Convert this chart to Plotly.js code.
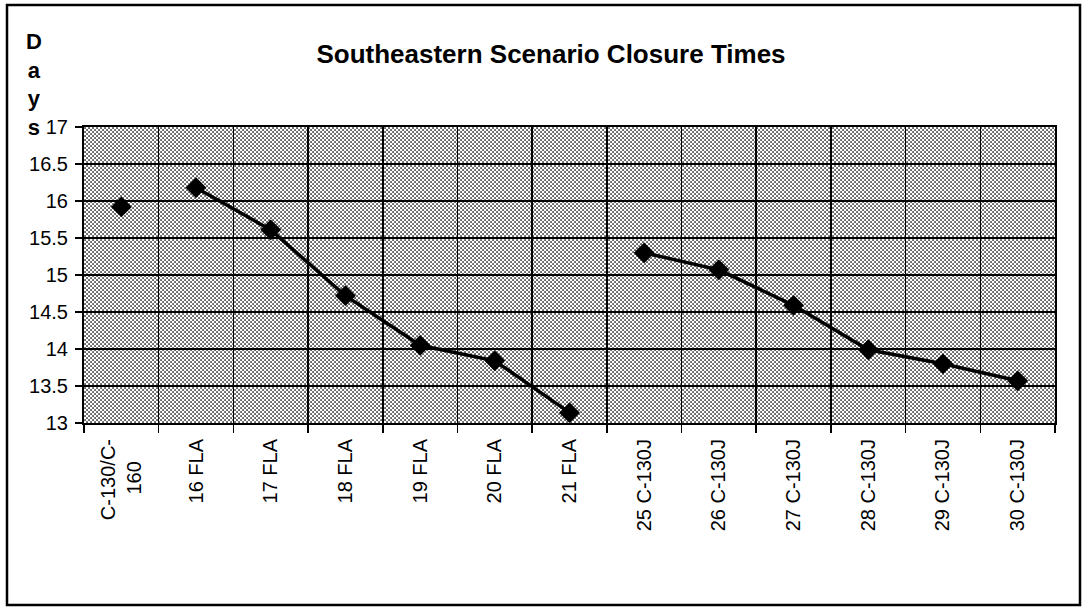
<!DOCTYPE html>
<html>
<head>
<meta charset="utf-8">
<script src="https://cdn.plot.ly/plotly-3.0.1.min.js"></script>
<style>
html,body{margin:0;padding:0;background:#fff;}
#chart{width:1088px;height:610px;}
</style>
</head>
<body>
<div id="chart"></div>
<script>
// Categories (x tick labels)
const categories = ["C-130/C-<br>160\u00a0\u00a0\u00a0\u00a0","16 FLA","17 FLA","18 FLA","19 FLA","20 FLA","21 FLA",
  "25 C-130J","26 C-130J","27 C-130J","28 C-130J","29 C-130J","30 C-130J"];
// Closure times (days) for each group; null where the group has no value
const baseline = [15.92, null, null, null, null, null, null, null, null, null, null, null, null];
const flaSeries = [null, 16.18, 15.61, 14.72, 14.05, 13.84, 13.14, null, null, null, null, null, null];
const c130jSeries = [null, null, null, null, null, null, null, 15.30, 15.07, 14.59, 13.99, 13.80, 13.57];
const yTicks = [13, 13.5, 14, 14.5, 15, 15.5, 16, 16.5, 17];

const font = "Liberation Sans, Arial, Helvetica, sans-serif";

function mk(y){
  return {
    x: categories, y: y, type: "scatter", mode: "lines+markers",
    connectgaps: false,
    line: {color: "#000", width: 3.5},
    marker: {symbol: "diamond", size: 16, color: "#000"},
    showlegend: false, hoverinfo: "x+y"
  };
}

// dotted halftone background for plot area
const svgPat = '<svg xmlns="http://www.w3.org/2000/svg" width="971" height="296" preserveAspectRatio="none">' +
  '<defs><pattern id="p" width="4" height="4" patternUnits="userSpaceOnUse">' +
  '<rect width="4" height="4" fill="#ffffff"/>' +
  '<rect x="0.2" y="0.2" width="1.7" height="1.7" fill="#000"/>' +
  '<rect x="2.2" y="2.2" width="1.7" height="1.7" fill="#000"/>' +
  '</pattern></defs><rect width="971" height="296" fill="url(#p)"/></svg>';
const patURI = "data:image/svg+xml;base64," + btoa(svgPat);

const L = 84, R = 33, T = 127, B = 187;
const PW = 1088 - L - R, PH = 610 - T - B;
function px(x){ return (x - L) / PW; }
function py(y){ return (610 - B - y) / PH; }

const layout = {
  width: 1088, height: 610,
  margin: {l: L, r: R, t: T, b: B, pad: 0},
  paper_bgcolor: "#ffffff",
  plot_bgcolor: "#ffffff",
  font: {family: font, color: "#000", size: 18},
  title: {
    text: "<b>Southeastern Scenario Closure Times</b>",
    font: {family: font, size: 26, color: "#000"},
    x: px(551), xanchor: "center", y: 1 - 54/610, yanchor: "middle", xref: "paper"
  },
  xaxis: {
    type: "category",
    tickson: "boundaries",
    tickangle: -90,
    ticks: "outside", ticklen: 8, tickwidth: 1.5, tickcolor: "#000",
    ticklabelstandoff: 6,
    showgrid: true, gridcolor: "#000", gridwidth: 1.5,
    showline: true, linecolor: "#000", linewidth: 2, mirror: true,
    tickfont: {family: font, size: 20, color: "#000"},
    range: [-0.5, 12.5], fixedrange: true
  },
  yaxis: {
    range: [13, 17],
    tickvals: yTicks,
    ticktext: yTicks.map(String),
    ticks: "outside", ticklen: 7, tickwidth: 1.5, tickcolor: "#000",
    ticklabelstandoff: 3,
    showgrid: true, gridcolor: "#000", gridwidth: 1.5,
    showline: true, linecolor: "#000", linewidth: 2, mirror: true,
    zeroline: false,
    tickfont: {family: font, size: 20, color: "#000"},
    fixedrange: true
  },
  images: [{
    source: patURI, xref: "paper", yref: "paper",
    x: 0, y: 1, sizex: 1, sizey: 1, sizing: "stretch",
    xanchor: "left", yanchor: "top", layer: "below", opacity: 0.75
  }],
  annotations: [{
    text: "<b>D<br>a<br>y<br>s</b>",
    xref: "paper", yref: "paper",
    x: px(34), y: py(142), xanchor: "center", yanchor: "bottom",
    showarrow: false, align: "center",
    font: {family: font, size: 22, color: "#000"}
  }],
  shapes: [{
    type: "rect", xref: "paper", yref: "paper",
    x0: px(7), x1: px(1080), y0: py(605), y1: py(5),
    line: {color: "#000", width: 2.5}, fillcolor: "rgba(0,0,0,0)", layer: "above"
  }]
};

Plotly.newPlot("chart", [mk(baseline), mk(flaSeries), mk(c130jSeries)], layout,
  {staticPlot: true, displayModeBar: false});
</script>
</body>
</html>
